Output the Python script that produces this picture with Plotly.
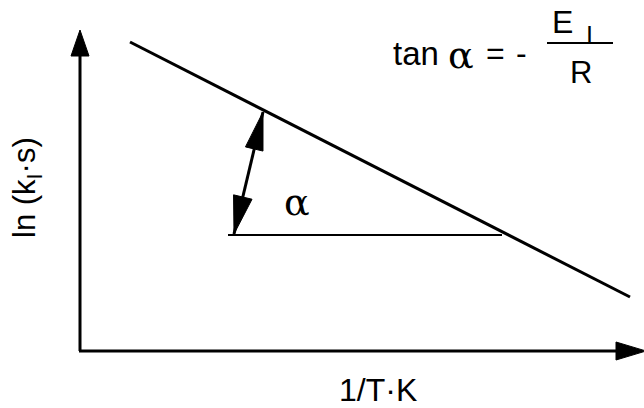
import math
import plotly.graph_objects as go

# Schematic Arrhenius-type plot: canvas units, x to the right, y downward
W, H = 644, 408

axis_origin = (80, 351)          # corner where the two axes meet
y_axis_tip = (80, 30)
x_axis_tip = (646, 351)

fit_x = [130, 630]               # the straight ln(k) vs 1/T line
fit_y = [42, 297]

base_x = [228, 502]              # horizontal reference for the angle
base_y = [235, 235]

angle_x = [234, 263]             # double-headed arrow marking alpha
angle_y = [234, 112]

INK = "black"
FONT = "Liberation Sans, Arial, sans-serif"
GREEK = "DejaVu Serif, Liberation Serif, serif"


def head(tip, tail, length, width):
    """Filled triangular arrowhead pointing at tip, coming from tail."""
    dx, dy = tip[0] - tail[0], tip[1] - tail[1]
    n = math.hypot(dx, dy)
    ux, uy = dx / n, dy / n
    bx, by = tip[0] - ux * length, tip[1] - uy * length
    px, py = -uy * width / 2, ux * width / 2
    return [tip[0], bx + px, bx - px, tip[0]], [tip[1], by + py, by - py, tip[1]]


fig = go.Figure()


def seg(xs, ys, w):
    fig.add_trace(go.Scatter(x=xs, y=ys, mode="lines",
                             line=dict(color=INK, width=w), hoverinfo="skip"))


def tri(xs, ys):
    fig.add_trace(go.Scatter(x=xs, y=ys, mode="lines", fill="toself",
                             fillcolor=INK, line=dict(color=INK, width=1),
                             hoverinfo="skip"))


# axes
seg([axis_origin[0], y_axis_tip[0]], [axis_origin[1], y_axis_tip[1] + 20], 3)
seg([axis_origin[0] - 1, x_axis_tip[0] - 20], [axis_origin[1], x_axis_tip[1]], 3)
tri(*head(y_axis_tip, axis_origin, 26, 18))
tri(*head(x_axis_tip, axis_origin, 30, 18))

# fitted line and horizontal reference
seg(fit_x, fit_y, 3)
seg(base_x, base_y, 2.2)

# angle arrow
p0 = (angle_x[0], angle_y[0])
p1 = (angle_x[1], angle_y[1])
seg(angle_x, angle_y, 3)
tri(*head(p1, p0, 38, 18))
tri(*head(p0, p1, 38, 19))

# fraction bar of the slope formula
seg([547, 613], [43, 43], 2.2)

ann = [
    dict(x=297, y=202, text="α", font=dict(family=GREEK, size=38)),
    dict(x=416, y=53, text="tan", font=dict(family=FONT, size=33)),
    dict(x=461, y=55, text="α", font=dict(family=GREEK, size=38)),
    dict(x=495, y=53, text="=", font=dict(family=FONT, size=32)),
    dict(x=521, y=53, text="-", font=dict(family=FONT, size=32)),
    dict(x=562, y=22, text="E", font=dict(family=FONT, size=32)),
    dict(x=589, y=35, text="I", font=dict(family=FONT, size=25)),
    dict(x=581, y=72, text="R", font=dict(family=FONT, size=31)),
    dict(x=378, y=390, text="1/T·K", font=dict(family=FONT, size=32)),
    dict(x=27, y=188, text="ln (k<sub>I</sub>·s)", textangle=-90,
         font=dict(family=FONT, size=31)),
]
for a in ann:
    a.update(xref="x", yref="y", showarrow=False)
    a["font"]["color"] = INK
    fig.add_annotation(**a)

fig.update_layout(
    width=W, height=H, margin=dict(l=0, r=0, t=0, b=0),
    paper_bgcolor="white", plot_bgcolor="white", showlegend=False,
    xaxis=dict(range=[0, W], visible=False, fixedrange=True),
    yaxis=dict(range=[H, 0], visible=False, fixedrange=True),
)
fig.write_html("out.html")
